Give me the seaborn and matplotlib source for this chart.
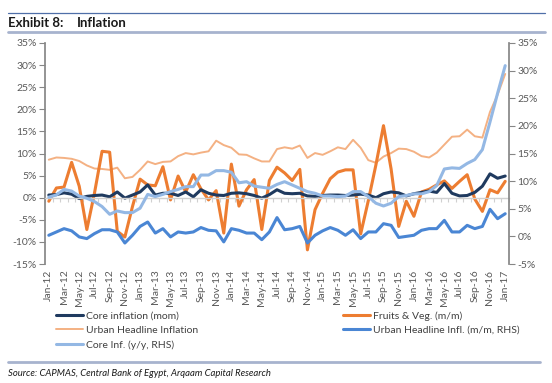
import numpy as np
import pandas as pd
import matplotlib
matplotlib.use('Agg')
import matplotlib.pyplot as plt
import seaborn as sns
from matplotlib.lines import Line2D
from matplotlib.ticker import FuncFormatter

# monthly categories Jan-12 .. Jan-17
months = pd.date_range('2012-01-01', '2017-01-01', freq='MS').strftime('%b-%y').tolist()

# left axis series (%)
core_mom = [0.6, 0.7, 1.1, 0.8, -0.2, 0.3, 0.5, 0.6, 0.2, 1.3, -0.1, 0.6, 1.3, 2.9, 0.6, 1.0,
            1.0, 0.5, 1.3, 0.2, 1.8, 1.0, 0.6, 0.5, 1.0, 1.1, 0.9, 0.5, -0.1, 0.7, 1.8, 1.0,
            0.9, 1.0, 0.4, 0.3, 0.5, 0.6, 0.6, 0.5, 0.6, 0.8, 0.6, 0.0, 0.9, 1.3, 1.1, 0.4,
            0.9, 1.2, 1.5, 1.2, 3.2, 1.0, 0.4, 0.5, 1.2, 2.6, 5.4, 4.4, 4.9]
fruits_veg = [-0.8, 2.2, 2.4, 8.0, 2.6, -7.2, 1.0, 10.5, 10.3, -7.6, -8.9, -2.0, 4.2, 2.9, 2.7, 7.0,
              -0.5, 4.9, 1.3, 5.2, 2.0, -0.5, 1.6, -8.0, 7.6, -1.9, 1.8, 4.1, -7.2, 3.9, 6.9, 5.6,
              3.9, 6.4, -11.8, -2.7, 1.0, 4.3, 5.8, 6.3, 6.3, -8.2, -0.7, 7.4, 16.3, 6.5, -6.5, -0.8,
              -4.2, 1.3, 1.9, 2.9, 3.8, 2.1, 3.7, 5.2, -0.3, -3.1, 1.8, 1.1, 3.7]
urban_headline = [8.6, 9.1, 9.0, 8.8, 8.3, 7.3, 6.6, 6.5, 6.3, 6.8, 4.4, 4.7, 6.3, 8.2, 7.6, 8.1,
                  8.2, 9.4, 10.1, 9.8, 10.2, 10.5, 12.9, 11.9, 11.3, 9.8, 9.7, 8.9, 8.2, 8.2, 11.0, 11.4,
                  11.1, 11.8, 9.0, 10.1, 9.7, 10.5, 11.4, 11.0, 13.1, 11.3, 8.5, 7.9, 9.3, 10.1, 11.1, 11.0,
                  10.4, 9.4, 9.1, 10.2, 12.0, 13.8, 13.9, 15.4, 13.9, 13.6, 19.4, 23.3, 28.0]

# right axis series (%)
urban_mom = [0.2, 0.8, 1.4, 1.0, -0.1, -0.4, 0.5, 1.2, 1.2, 0.8, -1.2, 0.2, 1.8, 2.6, 0.6, 1.4,
             -0.1, 0.8, 0.6, 0.8, 1.6, 1.1, 1.0, -1.0, 1.4, 1.1, 0.6, 0.6, -0.6, 0.8, 3.4, 1.2,
             1.4, 1.8, -1.2, 0.2, 1.0, 1.6, 1.1, 0.2, 1.2, -0.4, 0.8, 0.8, 2.3, 2.0, -0.2, 0.0,
             0.2, 1.1, 1.4, 1.4, 2.9, 0.8, 0.8, 2.0, 1.4, 1.8, 4.9, 3.2, 4.1]
core_yoy = [7.1, 7.5, 8.5, 8.2, 7.3, 6.9, 6.3, 5.4, 4.0, 4.6, 4.3, 4.3, 5.1, 7.6, 7.2, 7.6,
            8.1, 8.5, 9.0, 9.0, 11.1, 11.1, 11.9, 11.9, 11.6, 9.7, 9.9, 9.1, 8.9, 8.7, 9.4, 9.9,
            9.3, 8.7, 8.1, 7.8, 7.3, 7.3, 7.2, 7.3, 8.1, 8.1, 7.2, 6.0, 5.5, 6.0, 7.2, 7.4,
            7.7, 7.7, 8.1, 9.2, 12.2, 12.4, 12.3, 13.2, 13.9, 15.7, 20.7, 25.9, 30.9]


def run_chart():
    sns.set_theme(style='white')
    plt.rcParams['font.family'] = ['Lato', 'DejaVu Sans']

    df = pd.DataFrame({'idx': np.arange(len(months)), 'month': months,
                       'core_mom': core_mom, 'fruits_veg': fruits_veg,
                       'urban_headline': urban_headline, 'urban_mom': urban_mom,
                       'core_yoy': core_yoy})

    fig = plt.figure(figsize=(5.52, 3.83), dpi=100)
    ax = fig.add_axes([45 / 552, 1 - 264 / 383, 464 / 552, 221 / 383])
    ax2 = ax.twinx()

    sns.lineplot(data=df, x='idx', y='urban_headline', ax=ax, color='#F4B183', linewidth=1.4,
                 label='Urban Headline Inflation')
    sns.lineplot(data=df, x='idx', y='fruits_veg', ax=ax, color='#ED7D31', linewidth=2.2,
                 label='Fruits & Veg. (m/m)')
    sns.lineplot(data=df, x='idx', y='core_mom', ax=ax, color='#1F3A5F', linewidth=2.2,
                 label='Core inflation (mom)')
    sns.lineplot(data=df, x='idx', y='urban_mom', ax=ax2, color='#4A86D4', linewidth=2.2,
                 label='Urban Headline Infl. (m/m, RHS)')
    sns.lineplot(data=df, x='idx', y='core_yoy', ax=ax2, color='#94B8E4', linewidth=2.2,
                 label='Core Inf. (y/y, RHS)')

    h1, l1 = ax.get_legend_handles_labels()
    h2, l2 = ax2.get_legend_handles_labels()
    ax.get_legend().remove()
    ax2.get_legend().remove()
    lookup = dict(zip(l1 + l2, h1 + h2))
    order = ['Core inflation (mom)', 'Urban Headline Inflation', 'Core Inf. (y/y, RHS)',
             'Fruits & Veg. (m/m)', 'Urban Headline Infl. (m/m, RHS)']

    pct = FuncFormatter(lambda v, p: f'{v:.0f}%')
    tick_col = '#595959'

    ax.set_xlim(-0.5, len(months) - 0.5)
    ax.set_ylim(-15, 35)
    ax.set_yticks(np.arange(-15, 36, 5))
    ax.yaxis.set_major_formatter(pct)
    ax2.set_ylim(-5, 35)
    ax2.set_yticks(np.arange(-5, 36, 5))
    ax2.yaxis.set_major_formatter(pct)
    ax.set_xlabel('')
    ax.set_ylabel('')
    ax2.set_ylabel('')

    # category axis crosses at 0 with small ticks between months
    for a in (ax, ax2):
        a.spines['top'].set_visible(False)
    ax2.spines['bottom'].set_visible(False)
    ax2.spines['left'].set_visible(False)
    ax.spines['right'].set_visible(False)
    ax.spines['bottom'].set_position(('data', 0))
    ax.spines['bottom'].set_color('#D0D0D0')
    ax.spines['bottom'].set_linewidth(1.0)
    ax.set_xticks([])
    ax.set_xticks(np.arange(-0.5, len(months), 1), minor=True)
    ax.tick_params(axis='x', which='minor', bottom=True, length=3, width=0.8, color='#D0D0D0')
    ax.tick_params(axis='y', left=True, length=4, width=0.8, color='#868686',
                   labelsize=7.5, labelcolor=tick_col, pad=2)
    ax2.tick_params(axis='y', right=True, length=4, width=0.8, color='#868686',
                    labelsize=7.5, labelcolor=tick_col, pad=2)
    ax.spines['left'].set_color('#868686')
    ax2.spines['right'].set_color('#868686')

    sec = ax.secondary_xaxis(0)
    sec.set_xticks(df['idx'][::2], df['month'][::2], rotation=90)
    sec.tick_params(axis='x', length=0, labelsize=7.5, labelcolor=tick_col, pad=4)
    sec.spines['bottom'].set_visible(False)

    # header and footer
    fig.add_artist(Line2D([8 / 552, 545 / 552], [1 - 13 / 383] * 2, color='#4F6FA8', lw=0.9))
    fig.add_artist(Line2D([8 / 552, 545 / 552], [1 - 32 / 383] * 2, color='#A7B3CE', lw=2.0))
    fig.add_artist(Line2D([8 / 552, 540 / 552], [1 - 362 / 383] * 2, color='#A7B3CE', lw=2.0))
    fig.text(8 / 552, 1 - 23 / 383, 'Exhibit 8:', fontsize=9.5, fontweight='bold',
             color='#1A1A1A', va='center')
    fig.text(77 / 552, 1 - 23 / 383, 'Inflation', fontsize=9.5, fontweight='bold',
             color='#1A1A1A', va='center')
    fig.text(8 / 552, 1 - 373 / 383, 'Source: CAPMAS, Central Bank of Egypt, Arqaam Capital Research',
             fontsize=6.8, style='italic', color='#1A1A1A', va='center')

    leg = fig.legend([lookup[k] for k in order], order, loc='upper left',
                     bbox_to_anchor=(56 / 552, 1 - 311 / 383), ncol=2, frameon=False,
                     fontsize=7.5, handlelength=2.6, handletextpad=0.3, columnspacing=13.9,
                     labelspacing=0.5, borderpad=0, borderaxespad=0)
    for t in leg.get_texts():
        t.set_color('#404040')

    fig.savefig('out.png', dpi=100)


if __name__ == "__main__":
    run_chart()
